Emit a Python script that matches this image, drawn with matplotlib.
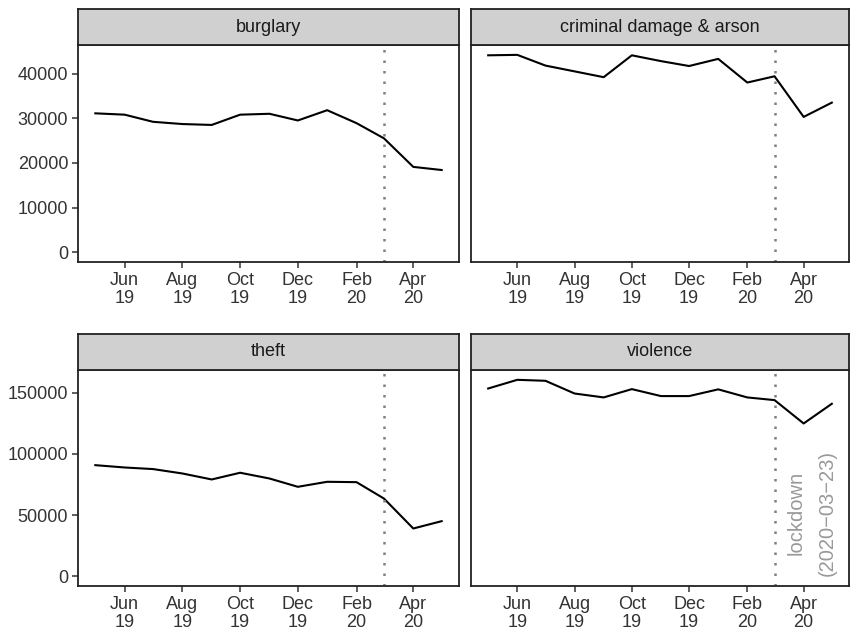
import matplotlib
matplotlib.use("Agg")
import matplotlib.pyplot as plt
import matplotlib.dates as mdates
import numpy as np
import pandas as pd

plt.rcParams['font.family'] = ['Liberation Sans', 'DejaVu Sans']

# monthly counts, May 2019 - May 2020
months = pd.date_range("2019-05-01", "2020-05-01", freq="MS")
burglary = [31100, 30800, 29200, 28700, 28500, 30800, 31000, 29500, 31800, 28900, 25500, 19100, 18400]
criminal_damage = [44100, 44200, 41800, 40500, 39200, 44100, 42800, 41700, 43300, 38000, 39400, 30300, 33500]
theft = [90800, 88900, 87600, 84000, 79100, 84600, 79900, 73100, 77200, 76900, 63500, 39000, 45000]
violence = [153500, 160600, 159800, 149400, 146200, 153000, 147300, 147300, 152800, 146200, 144000, 124900, 141000]

titles = ["burglary", "criminal damage & arson", "theft", "violence"]
series = [burglary, criminal_damage, theft, violence]
lockdown_line = pd.Timestamp("2020-03-01")
lockdown_label = "lockdown\n(2020\u221203\u221223)"

W, H = 851, 633
fig = plt.figure(figsize=(W / 100, H / 100), dpi=100)

def frac(x0, x1, y0, y1):
    # pixel box (y from top) -> figure fraction rect
    return [x0 / W, 1 - y1 / H, (x1 - x0) / W, (y1 - y0) / H]

cols = [(78, 459), (471, 849)]
rows = [(9, 45, 262), (334, 370, 586)]

# x range with 5% expansion like ggplot
span = months[-1] - months[0]
xlim = (months[0] - span * 0.05, months[-1] + span * 0.05)

txt_col = "#333333"
for i, (title, vals) in enumerate(zip(titles, series)):
    r, c = divmod(i, 2)
    sy0, py0, py1 = rows[r]
    x0, x1 = cols[c]
    ax = fig.add_axes(frac(x0, x1, py0, py1))
    ax.plot(months, vals, color="black", lw=1.5)
    ax.axvline(lockdown_line, color="#808080", lw=1.8, linestyle=(0, (1, 3.2)))
    ax.set_xlim(xlim)
    row_vals = series[2 * r] + series[2 * r + 1]
    top = max(row_vals)
    ax.set_ylim(-0.05 * top, top * 1.05)
    ax.xaxis.set_major_locator(mdates.MonthLocator(bymonth=[2, 4, 6, 8, 10, 12]))
    ax.xaxis.set_major_formatter(mdates.DateFormatter("%b\n%y"))
    if r == 0:
        ax.set_yticks(np.arange(0, 40001, 10000))
    else:
        ax.set_yticks(np.arange(0, 150001, 50000))
    ax.tick_params(axis="both", direction="out", length=4, width=1.1, color="#333333",
                   labelsize=13, labelcolor=txt_col, pad=3)
    if c == 1:
        ax.tick_params(axis="y", left=False, labelleft=False)
    for lab in ax.get_xticklabels():
        lab.set_linespacing(1.1)
    for s in ax.spines.values():
        s.set_linewidth(1.3)
        s.set_color("#222222")
    if title == "violence":
        ax.annotate(lockdown_label, xy=(pd.Timestamp("2020-03-23"), 0), xytext=(-6, 0),
                    textcoords="offset points", rotation=90, ha="left", va="bottom",
                    multialignment="center", color="#999999", fontsize=14.5,
                    linespacing=1.8)

    # facet strip
    sax = fig.add_axes(frac(x0, x1, sy0, py0))
    sax.set_facecolor("#d0d0d0")
    sax.set_xticks([])
    sax.set_yticks([])
    for s in sax.spines.values():
        s.set_linewidth(1.3)
        s.set_color("#222222")
    sax.text(0.5, 0.5, title, ha="center", va="center", fontsize=13,
             color="#1a1a1a", transform=sax.transAxes)

fig.savefig("out.png", dpi=100, facecolor="white")
